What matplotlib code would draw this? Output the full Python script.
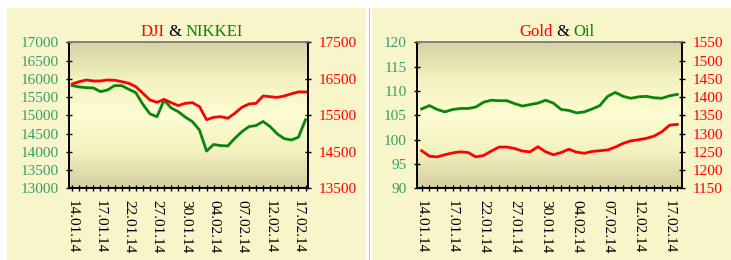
import numpy as np
import matplotlib
matplotlib.use('Agg')
from matplotlib import pyplot as plt
from matplotlib.patches import Rectangle
from matplotlib.colors import LinearSegmentedColormap

plt.rcParams['font.family'] = ['Liberation Serif', 'DejaVu Serif']

# --- data (trading days) ---
date_labels = ['14.01.14', '17.01.14', '22.01.14', '27.01.14', '30.01.14',
               '04.02.14', '07.02.14', '12.02.14', '17.02.14']

nikkei = [15813, 15776, 15758, 15749, 15648, 15694, 15813, 15813, 15712, 15621,
          15300, 15040, 14963, 15420, 15200, 15100, 14950, 14826, 14598, 14020,
          14200, 14170, 14160, 14370, 14550, 14690, 14720, 14830, 14690, 14490,
          14360, 14324, 14400, 14880]
dji = [16358, 16422, 16468, 16440, 16440, 16468, 16460, 16422, 16377, 16285,
       16103, 15920, 15856, 15938, 15847, 15765, 15829, 15847, 15737, 15380,
       15445, 15463, 15418, 15555, 15719, 15810, 15829, 16030, 16010, 15990,
       16030, 16090, 16140, 16140]
oil = [106.3, 107.0, 106.2, 105.7, 106.2, 106.4, 106.4, 106.7, 107.7, 108.1,
       108.0, 108.0, 107.4, 106.9, 107.2, 107.5, 108.1, 107.5, 106.2, 106.0,
       105.5, 105.7, 106.3, 107.0, 108.9, 109.7, 108.9, 108.5, 108.8, 108.9,
       108.6, 108.5, 109.0, 109.3]
gold = [1253, 1238, 1236, 1242, 1247, 1250, 1248, 1236, 1240, 1252,
        1263, 1263, 1259, 1252, 1250, 1264, 1250, 1242, 1248, 1257,
        1249, 1246, 1251, 1253, 1255, 1263, 1273, 1280, 1283, 1287,
        1293, 1305, 1323, 1325]

RED = '#ff0000'
GREEN = '#0a840a'
TEAL = '#3a9c6c'
PANEL = '#f7f5c9'

fig = plt.figure(figsize=(7.31, 2.6), dpi=100)
fig.patch.set_facecolor('white')

# panel backgrounds
fig.add_artist(Rectangle((7 / 731, 0), 359 / 731, 252 / 260, transform=fig.transFigure,
                         facecolor=PANEL, edgecolor='none', zorder=0))
fig.add_artist(Rectangle((372 / 731, 0), 359 / 731, 252 / 260, transform=fig.transFigure,
                         facecolor=PANEL, edgecolor='none', zorder=0))
fig.add_artist(plt.Line2D([368.5 / 731] * 2, [0, 252 / 260], transform=fig.transFigure,
                          color='#c8c8c8', lw=0.8))

grad_cmap = LinearSegmentedColormap.from_list(
    'g', ['#d3cf9f', '#f3f1c0', '#fffed3', '#f3f1c0', '#d6d2a3'])
grad = np.linspace(0, 1, 256).reshape(-1, 1)


def style_axes(ax, ax2, left_ticks, right_ticks, xlim):
    ax.imshow(grad, cmap=grad_cmap, aspect='auto', extent=[0, 1, 0, 1],
              transform=ax.transAxes, zorder=0, origin='lower')
    ax.set_xlim(*xlim)
    ax.set_ylim(left_ticks[0], left_ticks[-1])
    ax2.set_ylim(right_ticks[0], right_ticks[-1])
    ax.set_yticks(left_ticks)
    ax2.set_yticks(right_ticks)
    ax.set_xticks(range(0, 33, 4))
    ax.set_xticklabels(date_labels, rotation=270, ha='center', va='top')
    ax.set_xticks(range(34), minor=True)
    for a in (ax, ax2):
        for s in a.spines.values():
            s.set_linewidth(1.2)
        a.spines['top'].set_color('#808080')
    ax.tick_params(axis='y', direction='inout', length=5, width=1, pad=5,
                   labelsize=11, labelcolor=TEAL)
    ax.tick_params(axis='x', which='both', direction='inout', length=5, width=1,
                   pad=6, labelsize=11)
    ax2.tick_params(axis='y', direction='inout', length=5, width=1, pad=5,
                    labelsize=11, labelcolor=RED)


def colored_title(x_center, y, parts):
    renderer = fig.canvas.get_renderer()
    items = []
    for s, c in parts:
        t = fig.text(0, y, s, color=c, fontsize=12, va='center', ha='left')
        items.append((t, t.get_window_extent(renderer).width))
    total = sum(w for _, w in items)
    x = x_center * 731 - total / 2
    for t, w in items:
        t.set_x(x / 731)
        x += w


x = np.arange(34)

# DJI & NIKKEI
ax1 = fig.add_axes([69 / 731, 71.7 / 260, 239 / 731, 146 / 260])
ax1b = ax1.twinx()
ax1.plot(x, nikkei, color=GREEN, lw=2.0, zorder=3)
ax1b.plot(x, dji, color=RED, lw=2.0)
style_axes(ax1, ax1b, np.arange(13000, 17001, 500), np.arange(13500, 17501, 1000),
           (-0.45, 33.35))

# Gold & Oil
ax2 = fig.add_axes([417 / 731, 71.7 / 260, 265 / 731, 146 / 260])
ax2b = ax2.twinx()
ax2.plot(x, oil, color=GREEN, lw=2.0, zorder=3)
ax2b.plot(x, gold, color=RED, lw=2.0)
style_axes(ax2, ax2b, np.arange(90, 121, 5), np.arange(1150, 1551, 50),
           (-0.6, 33.6))

colored_title(192 / 731, 1 - 32 / 260, [('DJI', RED), (' & ', 'black'), ('NIKKEI', GREEN)])
colored_title(557 / 731, 1 - 32 / 260, [('Gold', RED), (' & ', 'black'), ('Oil', GREEN)])

fig.savefig('out.png', dpi=100)
